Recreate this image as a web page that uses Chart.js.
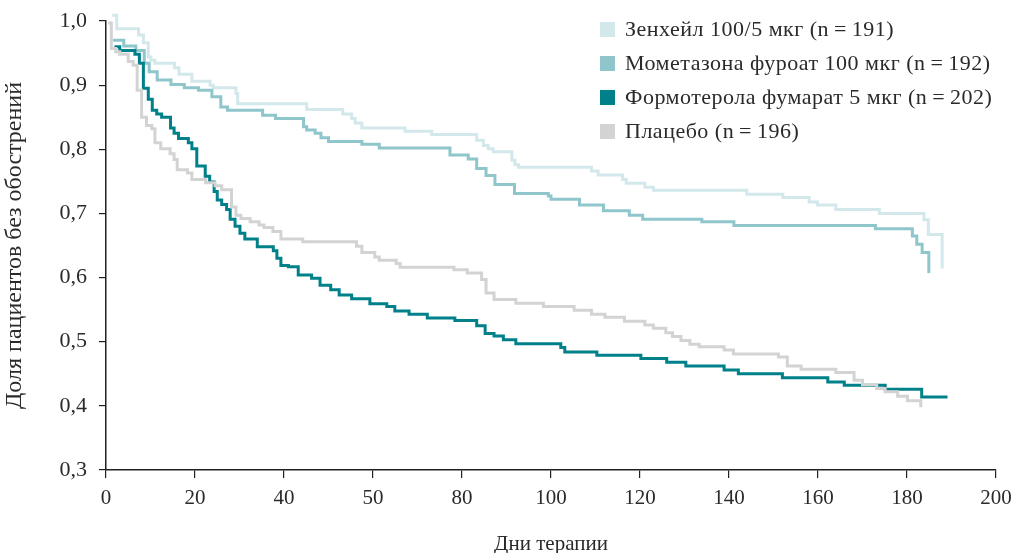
<!DOCTYPE html>
<html>
<head>
<meta charset="utf-8">
<script src="https://cdn.jsdelivr.net/npm/chart.js@4.4.1/dist/chart.umd.min.js"></script>
<style>
html,body{margin:0;padding:0;background:#fff;}
#wrap{width:1012px;height:553px;position:relative;}
</style>
</head>
<body>
<div id="wrap"><canvas id="c" width="1012" height="553"></canvas></div>
<script>
// ---- data ----
const seriesLabels = [
  'Зенхейл 100/5 мкг (n\u2009=\u2009191)',
  'Мометазона фуроат 100 мкг (n\u2009=\u2009192)',
  'Формотерола фумарат 5 мкг (n\u2009=\u2009202)',
  'Плацебо (n\u2009=\u2009196)'
];

const zenhaleDays = [1.4, 2.4, 7.3, 8.4, 9.5, 10.1, 11.0, 15.4, 16.4, 19.3, 23.4, 24.1, 29.2, 29.6, 45.1, 53.2, 55.2, 56.0, 57.5, 67.2, 73.2, 83.3, 84.8, 85.9, 87.0, 91.2, 91.9, 92.7, 109.1, 110.6, 116.1, 116.9, 121.1, 123.0, 144.0, 152.1, 158.0, 159.9, 164.0, 173.8, 183.8, 184.8, 187.9];
const zenhaleValues = [1.009, 0.988, 0.978, 0.966, 0.944, 0.939, 0.934, 0.927, 0.917, 0.906, 0.900, 0.896, 0.887, 0.871, 0.862, 0.855, 0.848, 0.841, 0.833, 0.828, 0.823, 0.814, 0.806, 0.801, 0.796, 0.783, 0.776, 0.772, 0.766, 0.760, 0.753, 0.747, 0.741, 0.736, 0.730, 0.725, 0.718, 0.713, 0.706, 0.700, 0.690, 0.667, 0.614];

const mometasoneDays = [1.6, 4.0, 6.7, 8.6, 9.7, 11.5, 14.6, 17.6, 20.8, 23.8, 25.8, 27.3, 35.2, 38.1, 44.4, 45.1, 47.0, 48.3, 50.0, 57.5, 61.4, 77.3, 81.4, 83.3, 85.4, 87.4, 91.8, 99.4, 100.0, 106.4, 111.8, 117.6, 120.6, 133.9, 141.1, 172.9, 181.2, 182.2, 183.4, 184.9];
const mometasoneValues = [0.970, 0.961, 0.954, 0.934, 0.921, 0.908, 0.901, 0.896, 0.892, 0.882, 0.866, 0.861, 0.853, 0.848, 0.835, 0.830, 0.825, 0.818, 0.812, 0.808, 0.802, 0.791, 0.785, 0.770, 0.759, 0.745, 0.731, 0.727, 0.722, 0.713, 0.704, 0.697, 0.691, 0.687, 0.681, 0.676, 0.665, 0.652, 0.639, 0.607];

const formoterolDays = [1.9, 3.1, 6.5, 7.5, 8.4, 9.5, 10.4, 11.4, 12.5, 14.5, 15.3, 16.3, 18.5, 19.3, 20.4, 22.3, 23.3, 24.3, 25.0, 26.0, 27.1, 27.9, 29.0, 30.1, 31.2, 34.0, 37.6, 38.4, 39.3, 41.0, 43.2, 46.2, 48.1, 50.5, 52.4, 55.2, 59.3, 63.1, 64.9, 68.1, 72.2, 78.4, 83.3, 85.2, 87.2, 89.3, 92.1, 102.2, 103.1, 110.3, 120.2, 126.0, 130.3, 138.9, 142.1, 152.0, 162.2, 165.9, 175.1, 183.3, 189.1];
const formoterolValues = [0.960, 0.954, 0.948, 0.934, 0.895, 0.878, 0.861, 0.855, 0.850, 0.833, 0.825, 0.817, 0.810, 0.801, 0.774, 0.758, 0.749, 0.734, 0.721, 0.714, 0.706, 0.691, 0.680, 0.669, 0.660, 0.648, 0.642, 0.630, 0.619, 0.617, 0.604, 0.599, 0.588, 0.581, 0.573, 0.567, 0.559, 0.555, 0.548, 0.543, 0.537, 0.533, 0.525, 0.513, 0.509, 0.503, 0.497, 0.491, 0.484, 0.479, 0.474, 0.468, 0.462, 0.456, 0.450, 0.444, 0.437, 0.432, 0.426, 0.414, 0.414];

const placeboDays = [0.5, 1.2, 2.2, 3.1, 5.0, 6.1, 7.0, 8.0, 9.1, 10.3, 11.0, 12.3, 14.4, 15.3, 16.0, 18.3, 19.3, 22.4, 24.5, 26.0, 28.2, 29.2, 30.3, 32.4, 34.4, 35.5, 37.5, 39.3, 44.2, 56.3, 57.5, 60.4, 61.4, 65.2, 66.1, 78.2, 81.2, 84.4, 85.4, 87.2, 92.1, 98.3, 105.2, 109.1, 112.1, 116.5, 121.1, 123.0, 125.8, 127.3, 129.2, 131.2, 133.3, 138.9, 141.0, 151.1, 153.1, 156.2, 164.0, 168.1, 170.0, 173.2, 175.1, 177.9, 180.1, 183.1];
const placeboValues = [0.997, 0.957, 0.952, 0.948, 0.937, 0.931, 0.892, 0.850, 0.837, 0.832, 0.810, 0.801, 0.793, 0.784, 0.768, 0.763, 0.753, 0.748, 0.743, 0.737, 0.710, 0.697, 0.692, 0.687, 0.682, 0.678, 0.672, 0.660, 0.656, 0.649, 0.639, 0.632, 0.627, 0.622, 0.616, 0.612, 0.607, 0.597, 0.576, 0.566, 0.560, 0.555, 0.549, 0.543, 0.538, 0.532, 0.526, 0.521, 0.514, 0.508, 0.502, 0.496, 0.492, 0.487, 0.481, 0.476, 0.462, 0.457, 0.452, 0.440, 0.433, 0.427, 0.422, 0.415, 0.408, 0.398];

const xTickLabels = ['0', '20', '40', '50', '80', '100', '120', '140', '160', '180', '200'];
const yTickLabels = ['0,3', '0,4', '0,5', '0,6', '0,7', '0,8', '0,9', '1,0'];
const xTitle = 'Дни терапии';
const yTitle = 'Доля пациентов без обострений';

const seriesColors = ['#d3e8eb', '#8ec6cb', '#00818a', '#d3d3d3'];

// ---- build ----
function pts(days, vals) { return days.map((d, i) => ({ x: d, y: vals[i] })); }
const allDays = [zenhaleDays, mometasoneDays, formoterolDays, placeboDays];
const allVals = [zenhaleValues, mometasoneValues, formoterolValues, placeboValues];
const drawOrder = [4, 3, 2, 1];

const FONT = "'Liberation Serif', 'Times New Roman', serif";

const datasets = seriesLabels.map((lab, i) => ({
  label: lab,
  data: pts(allDays[i], allVals[i]),
  borderColor: seriesColors[i],
  backgroundColor: seriesColors[i],
  borderWidth: 3,
  pointRadius: 0,
  stepped: 'before',
  fill: false,
  clip: false,
  order: drawOrder[i]
}));

const boxLegend = {
  id: 'boxLegend',
  afterDraw(chart) {
    const ctx = chart.ctx;
    ctx.save();
    ctx.font = '22px ' + FONT;
    try { ctx.letterSpacing = '0.5px'; } catch (e) {}
    ctx.textBaseline = 'middle';
    ctx.textAlign = 'left';
    chart.data.datasets.forEach((ds, i) => {
      const cy = 29.5 + 34 * i;
      ctx.fillStyle = ds.borderColor;
      ctx.fillRect(600, cy - 7.5, 15, 15);
      ctx.fillStyle = '#2a2a2a';
      ctx.fillText(ds.label, 625, cy + 1);
    });
    ctx.restore();
  }
};

new Chart(document.getElementById('c'), {
  type: 'line',
  data: { datasets },
  plugins: [boxLegend],
  options: {
    responsive: false,
    animation: false,
    devicePixelRatio: 1,
    layout: { padding: { top: 21, right: 16, left: 0, bottom: 0 } },
    plugins: { legend: { display: false }, tooltip: { enabled: false } },
    scales: {
      x: {
        type: 'linear',
        min: 0, max: 200,
        afterFit(s) { s.height = 83; s.paddingRight = 0; s.paddingLeft = 0; },
        afterBuildTicks(s) { s.ticks = xTickLabels.map((t, i) => ({ value: i * 20 })); },
        ticks: {
          autoSkip: false,
          maxRotation: 0,
          padding: 8,
          color: '#2a2a2a',
          font: { family: FONT, size: 21 },
          callback: (v, i) => xTickLabels[i]
        },
        grid: { drawOnChartArea: false, drawTicks: true, tickLength: 8, color: '#231f20', lineWidth: 1.2 },
        border: { display: true, color: '#231f20', width: 1.5 },
        title: { display: true, text: xTitle, color: '#2a2a2a', font: { family: FONT, size: 21 }, padding: { top: 20, bottom: -4 } }
      },
      y: {
        type: 'linear',
        min: 0.3, max: 1.0,
        afterFit(s) { s.width = 106; s.paddingTop = 0; s.paddingBottom = 0; },
        afterBuildTicks(s) { s.ticks = yTickLabels.map((t, i) => ({ value: 0.3 + i * 0.1 })); },
        ticks: {
          autoSkip: false,
          padding: 12,
          color: '#2a2a2a',
          font: { family: FONT, size: 22 },
          callback: (v, i) => yTickLabels[i]
        },
        grid: { drawOnChartArea: false, drawTicks: true, tickLength: 7, color: '#231f20', lineWidth: 1.2 },
        border: { display: true, color: '#231f20', width: 1.5 },
        title: { display: true, text: yTitle, color: '#2a2a2a', font: { family: FONT, size: 24 }, padding: { top: 0, bottom: 0 } }
      }
    }
  }
});
</script>
</body>
</html>
